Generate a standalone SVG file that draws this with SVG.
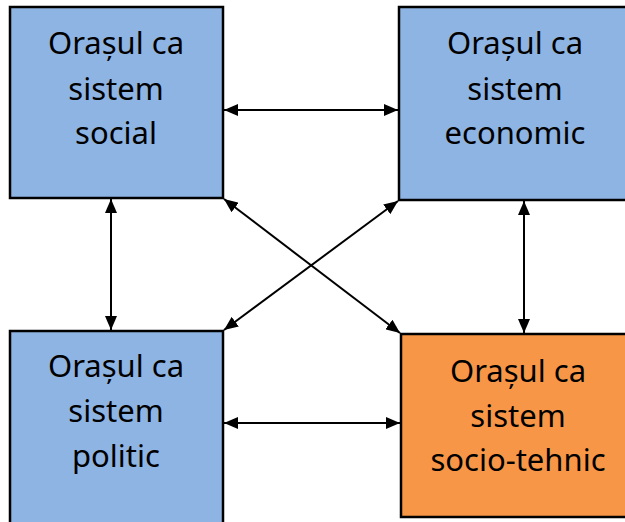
<svg xmlns="http://www.w3.org/2000/svg" width="625" height="522" viewBox="0 0 625 522">
<defs>
<marker id="ah" viewBox="0 0 14 12" refX="14" refY="6" markerWidth="14" markerHeight="12" markerUnits="userSpaceOnUse" orient="auto-start-reverse">
<path d="M0,0 L14,6 L0,12 Z" fill="#000"/>
</marker>
<style>
.box{stroke:#000;stroke-width:2.5}
.blue{fill:#8EB4E3}
.orange{fill:#F79646}
.t{font-family:"Noto Sans","Open Sans",sans-serif;font-size:31px;fill:#000;text-anchor:middle}
.c{stroke:#000;stroke-width:2;fill:none;marker-start:url(#ah);marker-end:url(#ah)}
</style>
</defs>
<rect width="625" height="522" fill="#fff"/>
<g id="social">
<rect class="box blue" x="10" y="7" width="213" height="191"/>
<text class="t" x="116" y="54">Orașul ca</text>
<text class="t" x="116" y="100">sistem</text>
<text class="t" x="116" y="144">social</text>
</g>
<g id="economic">
<rect class="box blue" x="399" y="7" width="240" height="193"/>
<text class="t" x="515" y="54">Orașul ca</text>
<text class="t" x="515" y="100">sistem</text>
<text class="t" x="515" y="144">economic</text>
</g>
<g id="politic">
<rect class="box blue" x="10" y="331" width="213" height="200"/>
<text class="t" x="116" y="377">Orașul ca</text>
<text class="t" x="116" y="422">sistem</text>
<text class="t" x="116" y="467">politic</text>
</g>
<g id="socio-tehnic">
<rect class="box orange" x="401" y="334" width="240" height="183"/>
<text class="t" x="518" y="382">Orașul ca</text>
<text class="t" x="518" y="427">sistem</text>
<text class="t" x="518" y="471">socio-tehnic</text>
</g>
<g id="connectors">
<line class="c" x1="224" y1="110" x2="398" y2="110"/>
<line class="c" x1="224" y1="423" x2="400" y2="423"/>
<line class="c" x1="111" y1="199" x2="111" y2="330"/>
<line class="c" x1="524" y1="201" x2="524" y2="333"/>
<line class="c" x1="224" y1="199" x2="400" y2="333"/>
<line class="c" x1="398" y1="201" x2="224" y2="330"/>
</g>
</svg>
